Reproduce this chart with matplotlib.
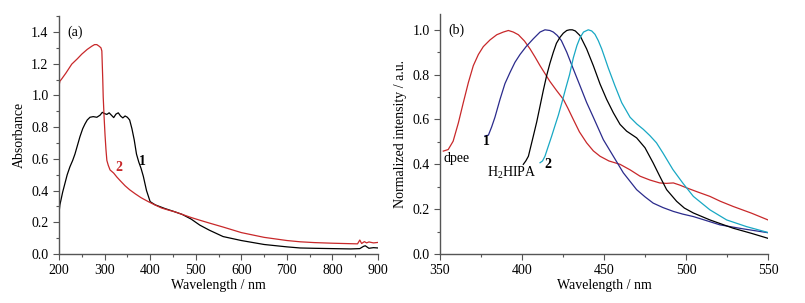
import matplotlib
matplotlib.use("Agg")
from matplotlib import pyplot as plt
from matplotlib.ticker import MultipleLocator

plt.rcParams['font.family'] = ['Liberation Serif', 'DejaVu Serif']
plt.rcParams['font.size'] = 10
plt.rcParams['mathtext.fontset'] = 'custom'
plt.rcParams['mathtext.rm'] = 'Liberation Serif'

# panel (a): absorbance spectra
wl_a1 = [200, 202, 208, 213, 218, 224, 230, 235, 240, 246, 252, 257, 262, 268, 275, 283, 290, 295, 300,
         305, 310, 315, 320, 325, 330, 335, 340, 345, 350, 355, 360, 365, 370, 375, 380, 385, 392, 400,
         411, 432, 450, 470, 490, 509, 530, 560, 600, 650, 700, 729, 760, 800, 840, 860, 868, 872, 880, 890, 900]
abs_1 = [0.26, 0.31, 0.39, 0.445, 0.50, 0.55, 0.59, 0.63, 0.68, 0.74, 0.79, 0.82, 0.845, 0.862, 0.866, 0.862, 0.875, 0.893, 0.885,
         0.88, 0.89, 0.875, 0.86, 0.882, 0.89, 0.87, 0.858, 0.87, 0.862, 0.845, 0.79, 0.72, 0.63, 0.58, 0.54, 0.49, 0.40, 0.33,
         0.31, 0.287, 0.27, 0.25, 0.22, 0.182, 0.15, 0.11, 0.085, 0.06, 0.045, 0.038, 0.036, 0.034, 0.032, 0.034, 0.048, 0.052, 0.036, 0.04, 0.038]

wl_a2 = [200, 202, 205, 215, 228, 240, 250, 262, 272, 278, 283, 288, 292, 294, 296, 297, 299, 301, 303, 305, 308,
         312, 320, 327, 335, 345, 355, 367, 380, 396, 410, 425, 440, 454, 470, 490, 509, 530, 560, 600, 650, 700,
         729, 760, 800, 840, 855, 860, 864, 870, 875, 880, 890, 900]
abs_2 = [1.06, 1.09, 1.10, 1.14, 1.197, 1.23, 1.26, 1.29, 1.31, 1.32, 1.32, 1.31, 1.30, 1.28, 1.10, 0.99, 0.86, 0.75, 0.66, 0.59, 0.56,
         0.53, 0.51, 0.485, 0.46, 0.43, 0.405, 0.38, 0.355, 0.33, 0.31, 0.29, 0.277, 0.266, 0.25, 0.23, 0.213, 0.195, 0.17, 0.135, 0.105, 0.085,
         0.077, 0.072, 0.068, 0.065, 0.064, 0.088, 0.066, 0.078, 0.07, 0.076, 0.07, 0.073]

# panel (b): normalized emission spectra
wl_dpee = [352, 355, 358, 361.2, 364.2, 367.3, 370.3, 373.4, 376.4, 380.5, 384.6, 388.6, 391.7, 394.7, 397.8, 401.5, 404.9,
           408, 411, 414, 417, 421, 425.2, 428, 431.3, 435, 439.4, 443.5, 447.6, 453, 459.8, 466, 472, 478, 484, 488,
           492.3, 496, 500.4, 507, 514.6, 521, 528.8, 540, 550]
int_dpee = [0.459, 0.466, 0.503, 0.585, 0.675, 0.765, 0.84, 0.89, 0.925, 0.955, 0.978, 0.99, 0.997, 0.99, 0.978, 0.95, 0.915,
            0.878, 0.84, 0.805, 0.77, 0.73, 0.69, 0.65, 0.60, 0.545, 0.496, 0.46, 0.436, 0.415, 0.40, 0.375, 0.347, 0.33, 0.317, 0.315,
            0.317, 0.308, 0.295, 0.277, 0.257, 0.235, 0.212, 0.182, 0.152]

wl_1 = [377.4, 379.5, 381.5, 383.5, 386.6, 389.6, 392.7, 395.7, 398.8, 402.5, 406.9, 411, 414, 417, 419.1, 421.5, 424, 427.3,
        431.3, 435.4, 439.4, 443.5, 449.6, 455.7, 461.8, 469.9, 475, 480, 486, 492.3, 498, 504.5, 512, 520.7, 535, 550]
int_1 = [0.527, 0.53, 0.567, 0.61, 0.69, 0.76, 0.81, 0.855, 0.89, 0.925, 0.96, 0.99, 1.0, 0.997, 0.99, 0.975, 0.952, 0.90,
         0.825, 0.75, 0.676, 0.61, 0.51, 0.436, 0.362, 0.287, 0.255, 0.227, 0.207, 0.19, 0.178, 0.167, 0.15, 0.13, 0.112, 0.095]

wl_h2 = [400.8, 402.3, 403.9, 406.9, 409, 411, 413, 415, 417, 419.1, 421, 423.2, 425.2, 427.3, 429, 430.7, 432.5, 435.4,
         439.4, 443.5, 447.6, 451.6, 455.7, 459.8, 463.8, 469.9, 475, 480, 484, 488.2, 494.3, 499, 504.5, 514.6, 528.8, 540, 550]
int_h2 = [0.40, 0.415, 0.436, 0.526, 0.59, 0.66, 0.73, 0.795, 0.85, 0.90, 0.94, 0.967, 0.985, 0.997, 1.0, 1.0, 0.995, 0.974,
          0.915, 0.84, 0.758, 0.69, 0.63, 0.578, 0.548, 0.518, 0.474, 0.406, 0.347, 0.287, 0.235, 0.205, 0.183, 0.152, 0.115, 0.092, 0.07]

wl_2 = [411, 412.5, 414, 416, 418.1, 420, 422.2, 424.5, 426.7, 429, 431.3, 433.5, 435.4, 437.5, 440.4, 442.5, 444.5, 446.5,
        448.6, 450.5, 452.6, 456.7, 460.8, 465.9, 470, 474, 478, 482, 486, 492, 498, 504.5, 514.6, 524.8, 537, 550]
int_2 = [0.407, 0.415, 0.436, 0.48, 0.526, 0.57, 0.62, 0.68, 0.74, 0.80, 0.875, 0.93, 0.965, 0.99, 1.0, 0.995, 0.98, 0.952,
         0.915, 0.875, 0.83, 0.75, 0.675, 0.61, 0.58, 0.556, 0.528, 0.496, 0.45, 0.377, 0.317, 0.257, 0.197, 0.152, 0.122, 0.096]

red = '#c8282a'
navy = '#2b2b8c'
cyan = '#18a8c4'
spine_col = '#555555'

fig = plt.figure(figsize=(8.05, 3.03), dpi=100)
ax1 = fig.add_axes([0.0733, 0.1617, 0.3963, 0.7853])
ax2 = fig.add_axes([0.5466, 0.1617, 0.4074, 0.7917])


def style_axis(ax):
    for s in ['top', 'right']:
        ax.spines[s].set_visible(False)
    for s in ['left', 'bottom']:
        ax.spines[s].set_color(spine_col)
        ax.spines[s].set_linewidth(1.0)
    ax.tick_params(which='major', direction='out', length=4, width=0.8, color=spine_col, labelsize=10)
    ax.tick_params(which='minor', direction='out', length=2.5, width=0.8, color=spine_col)


ax1.plot(wl_a1, abs_1, color='black', lw=0.9)
ax1.plot(wl_a2, abs_2, color=red, lw=0.9)
ax1.set_xlim(200, 900)
ax1.set_ylim(0, 1.5)
ax1.xaxis.set_major_locator(MultipleLocator(100))
ax1.xaxis.set_minor_locator(MultipleLocator(50))
ax1.yaxis.set_minor_locator(MultipleLocator(0.1))
ax1.set_yticks([0, 0.2, 0.4, 0.6, 0.8, 1.0, 1.2, 1.4])
ax1.set_xlabel('Wavelength / nm', fontsize=10, labelpad=1)
ax1.set_ylabel('Absorbance', fontsize=10, labelpad=4)
style_axis(ax1)
ax1.text(235, 1.4, '(a)', ha='center', va='center', fontsize=10)
ax1.text(384, 0.58, '1', ha='center', va='center', fontsize=10, fontweight='bold')
ax1.text(331, 0.545, '2', ha='center', va='center', fontsize=10, fontweight='bold', color=red)

ax2.plot(wl_dpee, int_dpee, color=red, lw=0.9)
ax2.plot(wl_1, int_1, color=navy, lw=0.9)
ax2.plot(wl_h2, int_h2, color='black', lw=0.9)
ax2.plot(wl_2, int_2, color=cyan, lw=0.9)
ax2.set_xlim(350, 550)
ax2.set_ylim(0, 1.07)
ax2.xaxis.set_major_locator(MultipleLocator(50))
ax2.xaxis.set_minor_locator(MultipleLocator(25))
ax2.yaxis.set_major_locator(MultipleLocator(0.2))
ax2.yaxis.set_minor_locator(MultipleLocator(0.1))
ax2.set_xlabel('Wavelength / nm', fontsize=10, labelpad=1)
ax2.set_ylabel('Normalized intensity / a.u.', fontsize=10, labelpad=4)
style_axis(ax2)
ax2.text(360, 1.0, '(b)', ha='center', va='center', fontsize=10)
ax2.text(360, 0.425, 'dpee', ha='center', va='center', fontsize=10)
ax2.text(378.5, 0.50, '1', ha='center', va='center', fontsize=10, fontweight='bold')
ax2.text(393.5, 0.36, r'$\mathregular{H_2HIPA}$', ha='center', va='center', fontsize=10)
ax2.text(416, 0.40, '2', ha='center', va='center', fontsize=10, fontweight='bold')

fig.savefig('out.png', dpi=100)
